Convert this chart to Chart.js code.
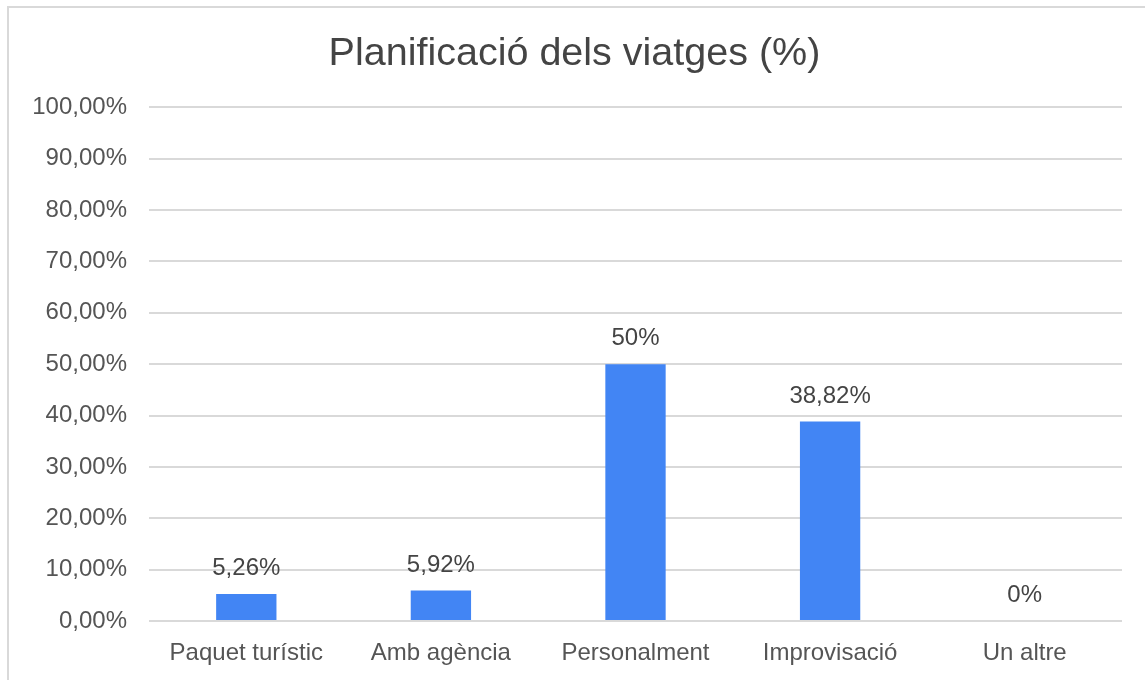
<!DOCTYPE html>
<html>
<head>
<meta charset="utf-8">
<script src="https://cdn.jsdelivr.net/npm/chart.js@4/dist/chart.umd.min.js"></script>
<style>
    body { margin: 0; overflow: hidden; background: #fff; }
    #wrap {
        position: absolute; left: 7px; top: 6px;
        width: 1150px; height: 700px;
        border: 2px solid #d9d9d9;
    }
</style>
</head>
<body>
<div id="wrap"><canvas id="planChart"></canvas></div>
<script>
const categories = ['Paquet turístic', 'Amb agència', 'Personalment', 'Improvisació', 'Un altre'];
const values = [5.26, 5.92, 50, 38.82, 0];
const valueLabels = ['5,26%', '5,92%', '50%', '38,82%', '0%'];
const yTicks = [0, 10, 20, 30, 40, 50, 60, 70, 80, 90, 100];

const fontFamily = '"Liberation Sans", Arial, Helvetica, sans-serif';

// Draw the value label above each bar
const barLabels = {
    id: 'barLabels',
    afterDatasetsDraw(chart) {
        const ctx = chart.ctx;
        const meta = chart.getDatasetMeta(0);
        ctx.save();
        ctx.font = '24px ' + fontFamily;
        ctx.fillStyle = '#444';
        ctx.textAlign = 'center';
        ctx.textBaseline = 'alphabetic';
        meta.data.forEach((bar, i) => {
            ctx.fillText(valueLabels[i], bar.x, bar.y - 19);
        });
        ctx.restore();
    }
};

new Chart(document.getElementById('planChart'), {
    type: 'bar',
    data: {
        labels: categories,
        datasets: [{
            data: values,
            backgroundColor: '#4285f4',
            barPercentage: 0.31,
            categoryPercentage: 1
        }]
    },
    options: {
        responsive: true,
        maintainAspectRatio: false,
        animation: false,
        layout: { padding: { left: 18, right: 37, top: 0, bottom: 37 } },
        plugins: {
            legend: { display: false },
            tooltip: { enabled: false },
            title: {
                display: true,
                text: 'Planificació dels viatges (%)',
                color: '#444',
                font: { family: fontFamily, size: 39.5, weight: 'normal' },
                padding: { top: 22, bottom: 30 }
            }
        },
        scales: {
            x: {
                grid: { display: false },
                border: { display: false },
                ticks: {
                    color: '#555',
                    font: { family: fontFamily, size: 24 },
                    padding: 10
                },
                afterFit(axis) { axis.height = 50; }
            },
            y: {
                min: 0,
                max: 100,
                afterBuildTicks(axis) {
                    axis.ticks = yTicks.map(v => ({ value: v }));
                },
                grid: { color: '#d9d9d9', lineWidth: 2, drawTicks: false },
                border: { display: false },
                ticks: {
                    color: '#555',
                    font: { family: fontFamily, size: 24 },
                    padding: 22,
                    callback: v => v.toFixed(2).replace('.', ',') + '%'
                },
                afterFit(axis) { axis.width = 122; }
            }
        }
    },
    plugins: [barLabels]
});
</script>
</body>
</html>
